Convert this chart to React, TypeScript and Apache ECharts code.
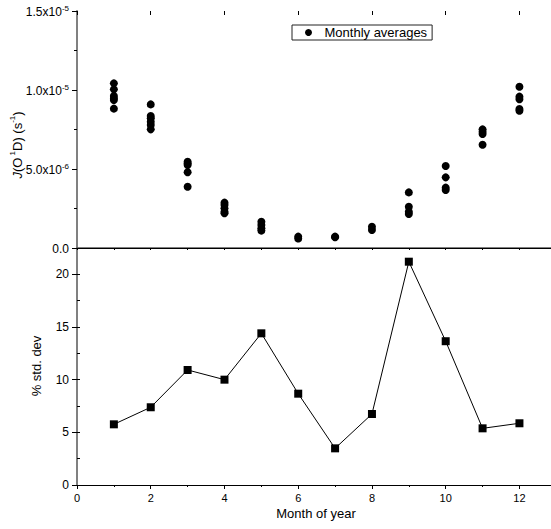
import React, { useEffect, useRef } from "react";
import * as echarts from "echarts";

// Month numbers (x values)
const MONTHS = [1, 2, 3, 4, 5, 6, 7, 8, 9, 10, 11, 12];

// Monthly-average J(O1D) values (s^-1), several per month
const J_M1 = [1.042e-5, 1.004e-5, 0.962e-5, 0.947e-5, 0.937e-5, 0.882e-5];
const J_M2 = [0.909e-5, 0.835e-5, 0.821e-5, 0.799e-5, 0.778e-5, 0.751e-5];
const J_M3 = [0.546e-5, 0.535e-5, 0.525e-5, 0.479e-5, 0.388e-5];
const J_M4 = [0.287e-5, 0.272e-5, 0.251e-5, 0.23e-5, 0.22e-5];
const J_M5 = [0.166e-5, 0.146e-5, 0.125e-5, 0.11e-5];
const J_M6 = [0.072e-5, 0.06e-5];
const J_M7 = [0.072e-5, 0.068e-5];
const J_M8 = [0.135e-5, 0.114e-5];
const J_M9 = [0.352e-5, 0.261e-5, 0.23e-5, 0.215e-5];
const J_M10 = [0.519e-5, 0.447e-5, 0.382e-5, 0.367e-5];
const J_M11 = [0.751e-5, 0.736e-5, 0.722e-5, 0.654e-5];
const J_M12 = [1.021e-5, 0.958e-5, 0.941e-5, 0.88e-5, 0.869e-5];
const J_BY_MONTH = [J_M1, J_M2, J_M3, J_M4, J_M5, J_M6, J_M7, J_M8, J_M9, J_M10, J_M11, J_M12];

// % standard deviation per month
const STD_DEV = [5.76, 7.38, 10.92, 10.0, 14.4, 8.67, 3.48, 6.74, 21.2, 13.65, 5.38, 5.86];

// visible x range (axis runs past 12, cut at the picture's right edge)
const X_MAX = 12.856;

const FONT = "Liberation Sans, Arial, sans-serif";

function sciLabel(v: number): string {
  if (v === 0) return "{b|0.0}";
  const exp = Math.floor(Math.log10(v) + 1e-9);
  const mant = v / Math.pow(10, exp);
  return `{b|${mant.toFixed(1)}x10}{s|${exp}}`;
}

export default function App() {
  const ref = useRef<HTMLDivElement>(null);
  useEffect(() => {
    if (!ref.current) return;
    const chart = echarts.init(ref.current, undefined, { renderer: "svg" });
    const scatterData: number[][] = [];
    MONTHS.forEach((m, i) => J_BY_MONTH[i].forEach((v) => scatterData.push([m, v])));
    const lineData = MONTHS.map((m, i) => [m, STD_DEV[i]]);

    const axisLineGray = { show: true, lineStyle: { color: "#808080", width: 2 } };
    const tickStyle = { color: "#000", width: 1 };
    const xBase = { type: "value", min: 0, max: X_MAX, splitLine: { show: false } };

    chart.setOption({
      animation: false,
      backgroundColor: "#fff",
      textStyle: { fontFamily: FONT },
      grid: [
        { left: 77, top: 11, right: 0, height: 237 },
        { left: 77, top: 248, right: 0, height: 237 },
      ],
      legend: {
        data: [{ name: "Monthly averages", icon: "circle" }],
        left: 292,
        top: 25,
        itemWidth: 22,
        itemHeight: 7,
        padding: [1, 5, 1, 13],
        borderColor: "#222",
        borderWidth: 1,
        textStyle: { fontSize: 13, color: "#000", fontFamily: FONT },
      },
      xAxis: [
        // top panel: top edge, minor (odd) ticks
        {
          ...xBase, gridIndex: 0, position: "top", interval: 1,
          axisLine: { show: true, lineStyle: { color: "#555", width: 1.5 } },
          axisTick: { show: true, inside: true, length: 2, lineStyle: tickStyle },
          axisLabel: { show: false },
        },
        // top panel: top edge, major ticks
        {
          ...xBase, gridIndex: 0, position: "top", interval: 2,
          axisLine: { show: false },
          axisTick: { show: true, inside: true, length: 4, lineStyle: tickStyle },
          axisLabel: { show: false },
        },
        // separator line between panels
        {
          ...xBase, gridIndex: 0, position: "bottom", interval: 1,
          axisLine: { show: true, lineStyle: { color: "#000", width: 1 } },
          axisTick: { show: false }, axisLabel: { show: false },
        },
        // bottom panel: top edge ticks
        {
          ...xBase, gridIndex: 1, position: "top", interval: 1,
          axisLine: { show: false },
          axisTick: { show: true, inside: true, length: 2, lineStyle: tickStyle },
          axisLabel: { show: false },
        },
        // bottom panel: bottom edge minor ticks
        {
          ...xBase, gridIndex: 1, position: "bottom", interval: 1,
          axisLine: { show: true, lineStyle: { color: "#000", width: 1 } },
          axisTick: { show: true, inside: false, length: 2, lineStyle: tickStyle },
          axisLabel: { show: false },
        },
        // bottom panel: bottom edge major ticks + labels
        {
          ...xBase, gridIndex: 1, position: "bottom", interval: 2,
          axisLine: { show: false },
          axisTick: { show: true, inside: false, length: 4, lineStyle: tickStyle },
          axisLabel: { show: true, margin: 7, fontSize: 11, color: "#000", fontFamily: FONT, showMaxLabel: false },
        },
      ],
      yAxis: [
        {
          type: "value", gridIndex: 0, min: 0, max: 1.5e-5, interval: 5e-6,
          axisLine: axisLineGray,
          axisTick: { show: true, inside: false, length: 5, lineStyle: tickStyle },
          minorTick: { show: true, splitNumber: 2, length: 3, lineStyle: tickStyle },
          axisLabel: {
            show: true, margin: 8, formatter: (v: number) => sciLabel(v),
            rich: {
              b: { fontSize: 12, color: "#000", fontFamily: FONT, lineHeight: 14, verticalAlign: "bottom" },
              s: { fontSize: 8, color: "#000", fontFamily: FONT, lineHeight: 9, verticalAlign: "top" },
            },
          },
          splitLine: { show: false },
        },
        {
          type: "value", gridIndex: 1, min: 0, max: 22.5, interval: 5,
          axisLine: axisLineGray,
          axisTick: { show: true, inside: false, length: 5, lineStyle: tickStyle },
          minorTick: { show: false },
          axisLabel: { show: true, margin: 8, fontSize: 12, color: "#000", fontFamily: FONT, showMaxLabel: false },
          splitLine: { show: false },
        },
        {
          type: "value", gridIndex: 1, min: 0, max: 22.5, interval: 2.5,
          axisLine: { show: false },
          axisTick: { show: true, inside: false, length: 3, lineStyle: tickStyle },
          axisLabel: { show: false }, splitLine: { show: false },
        },
      ],
      series: [
        {
          name: "Monthly averages", type: "scatter", xAxisIndex: 0, yAxisIndex: 0,
          data: scatterData, symbol: "circle", symbolSize: 8,
          itemStyle: { color: "#000", opacity: 1 },
        },
        {
          name: "% std. dev", type: "line", xAxisIndex: 5, yAxisIndex: 1,
          data: lineData, symbol: "rect", symbolSize: 8,
          lineStyle: { color: "#000", width: 1 }, itemStyle: { color: "#000", opacity: 1 },
        },
      ],
      graphic: [
        {
          type: "text", x: 16, y: 145, rotation: Math.PI / 2,
          style: {
            text: "{i|J}{n|(O}{s| 1}{n|D) (s}{s|-1}{n|)}",
            align: "center", verticalAlign: "middle",
            rich: {
              i: { fontSize: 13, fontStyle: "italic", fill: "#000", fontFamily: FONT, lineHeight: 16, verticalAlign: "bottom" },
              n: { fontSize: 13, fill: "#000", fontFamily: FONT, lineHeight: 16, verticalAlign: "bottom" },
              s: { fontSize: 8, fill: "#000", fontFamily: FONT, lineHeight: 10, verticalAlign: "top" },
            },
          },
        },
        {
          type: "text", x: 36, y: 366, rotation: Math.PI / 2,
          style: { text: "% std. dev", align: "center", verticalAlign: "middle", fontSize: 13, fill: "#000", fontFamily: FONT },
        },
        {
          type: "text", x: 316, y: 513,
          style: { text: "Month of year", align: "center", verticalAlign: "middle", fontSize: 13, fill: "#000", fontFamily: FONT },
        },
      ],
    });
    return () => chart.dispose();
  }, []);
  return <div ref={ref} style={{ position: "fixed", left: 0, top: 0, width: 551, height: 529 }} />;
}
